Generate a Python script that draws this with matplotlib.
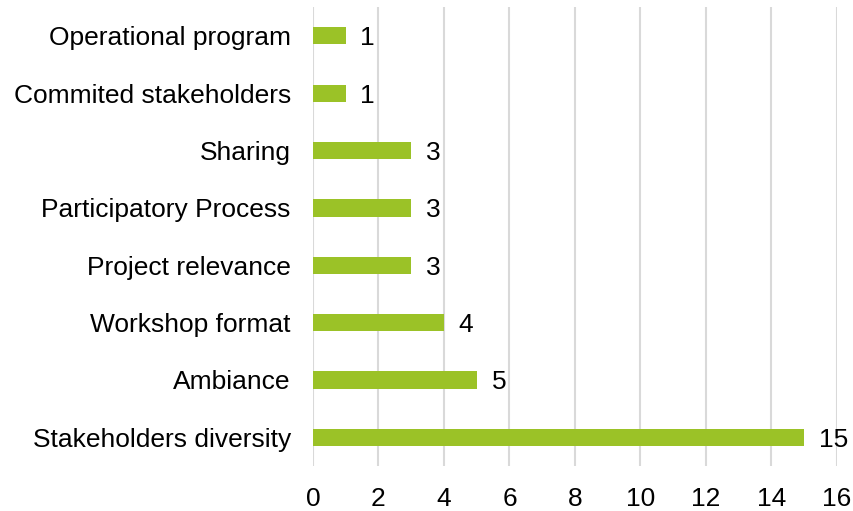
import matplotlib
matplotlib.use('Agg')
import matplotlib.pyplot as plt

# data (top to bottom in the chart)
categories = ['Operational program', 'Commited stakeholders', 'Sharing',
              'Participatory Process', 'Project relevance', 'Workshop format',
              'Ambiance', 'Stakeholders diversity']
counts = [1, 1, 3, 3, 3, 4, 5, 15]
xticks = [0, 2, 4, 6, 8, 10, 12, 14, 16]

plt.rcParams['font.family'] = ['Liberation Sans', 'DejaVu Sans']

fig = plt.figure(figsize=(8.54, 5.11), dpi=100)
ax = fig.add_axes([0.3665, 0.088, 0.6135, 0.898])

# plot from bottom so first category ends on top
pos = list(range(len(categories)))[::-1]
ax.barh(pos, counts, height=0.3, color='#9BC227', zorder=3)

for p, c in zip(pos, counts):
    ax.text(c + 0.45, p, str(c), va='center_baseline', ha='left', fontsize=19, color='#000000')

ax.set_yticks(pos)
ax.set_yticklabels(categories, fontsize=19)
ax.set_xticks(xticks)
ax.set_xticklabels([str(t) for t in xticks], fontsize=19)
ax.set_xlim(0, 16)
ax.set_ylim(-0.5, 7.5)

ax.grid(axis='x', color='#D9D9D9', linewidth=1.5, zorder=0)
for s in ax.spines.values():
    s.set_visible(False)
ax.tick_params(axis='y', length=0, pad=16)
ax.tick_params(axis='x', length=0, pad=15)

fig.savefig('out.png', dpi=100)
